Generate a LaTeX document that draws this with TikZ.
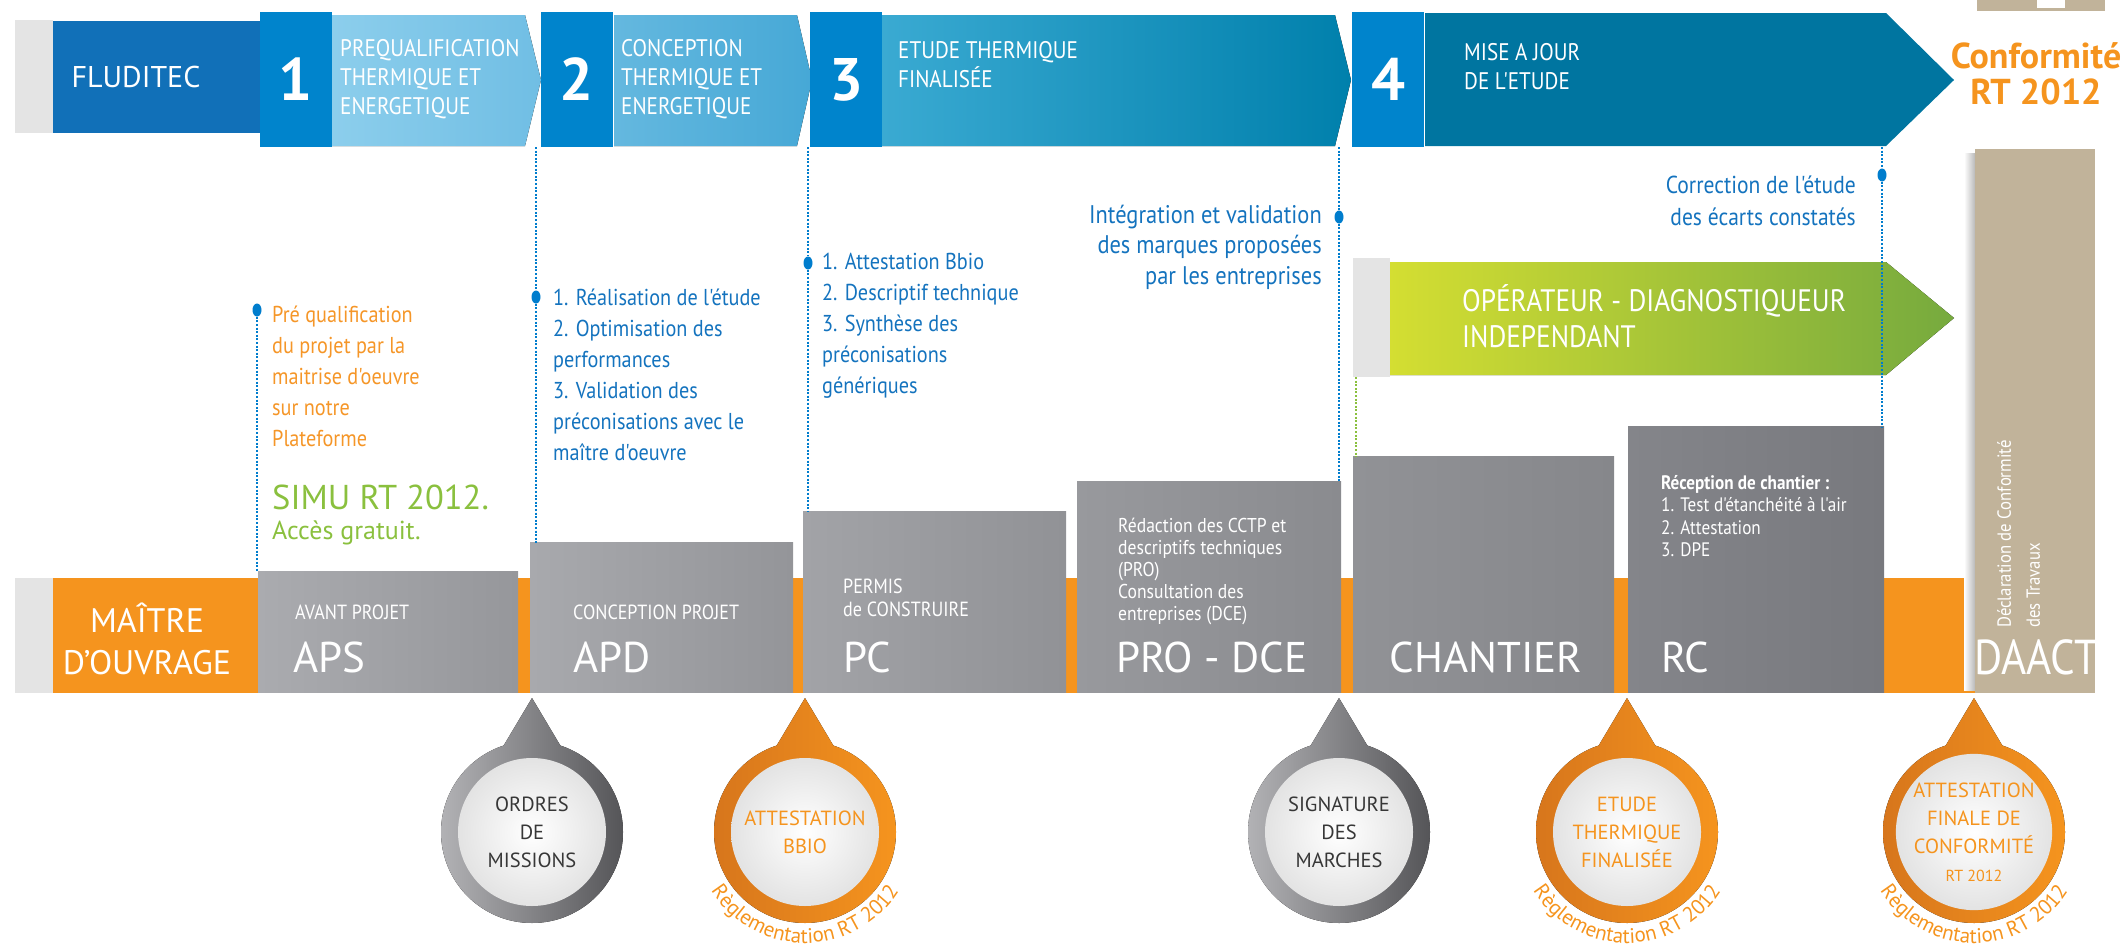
\documentclass[tikz,border=0pt]{standalone}
\usepackage{fontspec}
\setmainfont{PT Sans}
\newfontfamily\cond[FakeStretch=0.88]{PT Sans}
\usetikzlibrary{positioning,shapes.geometric,decorations.text}

\definecolor{fblue}{RGB}{17,112,184}
\definecolor{numblue}{RGB}{0,132,204}
\definecolor{segonel}{RGB}{140,206,236}
\definecolor{segoner}{RGB}{112,190,228}
\definecolor{segtwol}{RGB}{100,184,223}
\definecolor{segtwor}{RGB}{70,168,214}
\definecolor{segthreel}{RGB}{58,170,210}
\definecolor{segthreer}{RGB}{0,128,172}
\definecolor{segfour}{RGB}{0,117,160}
\definecolor{rtorange}{RGB}{245,148,30}
\definecolor{darkorange}{RGB}{215,118,28}
\definecolor{dotblue}{RGB}{0,125,205}
\definecolor{txtblue}{RGB}{20,115,190}
\definecolor{txtorange}{RGB}{245,150,40}
\definecolor{txtgreen}{RGB}{138,192,62}
\definecolor{greenl}{RGB}{212,222,50}
\definecolor{greenr}{RGB}{118,170,62}
\definecolor{tanbox}{RGB}{193,179,154}
\definecolor{stripgray}{RGB}{228,228,228}
\definecolor{pingrayl}{RGB}{178,178,181}
\definecolor{pingrayr}{RGB}{85,85,88}
\definecolor{pintext}{RGB}{55,55,55}

\begin{document}
\begin{tikzpicture}[
    x = 1pt, y = -1pt, % one unit per pixel, y pointing down
    numbox/.style = {fill=numblue, text=white, inner sep=0pt,
        minimum width=72pt, minimum height=135pt,
        font=\bfseries\fontsize{60}{60}\selectfont},
    seglbl/.style = {anchor=west, align=left, text=white, inner sep=0pt,
        font=\cond\fontsize{24}{29}\selectfont},
    note/.style = {anchor=west, align=left, inner sep=0pt,
        font=\cond\fontsize{23}{31}\selectfont},
    dotnode/.style = {ellipse, fill=dotblue, inner sep=0pt,
        minimum width=9pt, minimum height=13pt},
    dotline/.style = {draw=dotblue, line width=1.3pt, dash pattern=on 2pt off 1.6pt},
    phasebox/.style = {anchor=south west, inner sep=0pt},
    smalllbl/.style = {anchor=west, align=left, text=white, inner sep=0pt,
        font=\cond\fontsize{20.5}{23}\selectfont},
    biglbl/.style = {anchor=west, text=white, inner sep=0pt,
        font=\fontsize{43}{43}\selectfont},
    pinface/.style = {circle, minimum size=148pt, inner sep=0pt, align=center,
        inner color=white, outer color=gray!22,
        font=\fontsize{20.5}{28}\selectfont},
    rtlabel/.style = {decorate, decoration={text along path, text align=center,
        text color=rtorange,
        text={|\fontsize{21}{21}\selectfont|Règlementation RT 2012}}}
    ]
\useasboundingbox (0,0) rectangle (2123,945);

% top bar: FLUDITEC and the four steps
\fill[stripgray] (15,20) rectangle (53,133);
\fill[fblue] (53,21) rectangle (262,133);
\fill[left color=segonel, right color=segoner]
    (331,15) -- (525,15) -- (541,80) -- (525,146) -- (331,146) -- cycle;
\fill[left color=segtwol, right color=segtwor]
    (614,15) -- (797,15) -- (812,80) -- (797,146) -- (614,146) -- cycle;
\fill[left color=segthreel, right color=segthreer]
    (882,15) -- (1335,15) -- (1351,80) -- (1335,146) -- (882,146) -- cycle;
\fill[segfour]
    (1425,13) -- (1886,13) -- (1954,80) -- (1886,146) -- (1425,146) -- cycle;

\node[text=white, font=\fontsize{30}{30}\selectfont] (fluditec) at (136,77) {FLUDITEC};
\node[numbox] (n1) at (295.5,79.5) {1};
\node[numbox] (n2) at (577,79.5) {2};
\node[numbox] (n3) at (846,79.5) {3};
\node[numbox] (n4) at (1388,79.5) {4};
\node[seglbl] (s1) at (340,79) {PREQUALIFICATION\\THERMIQUE ET\\ENERGETIQUE};
\node[seglbl] (s2) at (621,79) {CONCEPTION\\THERMIQUE ET\\ENERGETIQUE};
\node[seglbl] (s3) at (898,65) {ETUDE THERMIQUE\\FINALISÉE};
\node[seglbl] (s4) at (1464,67) {MISE A JOUR\\DE L'ETUDE};
\node[text=rtorange, align=center, inner sep=0pt,
    font=\bfseries\fontsize{36}{36}\selectfont] (conf) at (2036,74) {Conformité\\RT 2012};
\fill[tanbox] (1977,0) rectangle (2105,11);
\fill[white] (2037,0) rectangle (2065,8);

% bottom band: MAITRE D'OUVRAGE and the phases
\fill[stripgray] (15,578) rectangle (53,693);
\fill[rtorange] (53,578) rectangle (1975,693);
\node[text=white, align=center, inner sep=0pt,
    font=\fontsize{34}{42}\selectfont] (mo) at (147,639) {MAÎTRE\\D'OUVRAGE};

\node[phasebox, minimum width=260pt, minimum height=121pt,
    left color={rgb,255:red,170;green,171;blue,175}, right color={rgb,255:red,150;green,151;blue,155}] (aps) at (258,693) {};
\node[phasebox, minimum width=263pt, minimum height=150pt,
    left color={rgb,255:red,168;green,169;blue,173}, right color={rgb,255:red,148;green,149;blue,153}] (apd) at (530,693) {};
\node[phasebox, minimum width=263pt, minimum height=181pt,
    left color={rgb,255:red,162;green,163;blue,167}, right color={rgb,255:red,145;green,146;blue,150}] (pc) at (803,693) {};
\node[phasebox, minimum width=264pt, minimum height=211pt,
    left color={rgb,255:red,152;green,153;blue,157}, right color={rgb,255:red,138;green,139;blue,143}] (prodce) at (1077,693) {};
\node[phasebox, minimum width=261pt, minimum height=236pt,
    left color={rgb,255:red,145;green,146;blue,150}, right color={rgb,255:red,134;green,135;blue,139}] (chantier) at (1353,693) {};
\node[phasebox, minimum width=256pt, minimum height=266pt,
    left color={rgb,255:red,132;green,133;blue,138}, right color={rgb,255:red,120;green,121;blue,126}] (rc) at (1628,693) {};
\fill[left color=white, right color=gray!55] (1964,153) rectangle (1975,690); % shadow
\node[phasebox, minimum width=120pt, minimum height=544pt, fill=tanbox] (daact) at (1975,693) {};

\node[smalllbl] (apstxt) at (295,612) {AVANT PROJET};
\node[biglbl] (apsname) at (293,657) {APS};
\node[smalllbl] (apdtxt) at (573,612) {CONCEPTION PROJET};
\node[biglbl] (apdname) at (573,657) {APD};
\node[smalllbl] (pctxt) at (843,598) {PERMIS\\de CONSTRUIRE};
\node[biglbl] (pcname) at (843,657) {PC};
\node[smalllbl, font=\cond\fontsize{20}{22}\selectfont] (prodcetxt) at (1118,571)
    {Rédaction des CCTP et\\descriptifs techniques\\(PRO)\\Consultation des\\entreprises (DCE)};
\node[biglbl] (prodcename) at (1116,657) {PRO - DCE};
\node[biglbl, anchor=center] (chantiername) at (1486,657) {CHANTIER};
\node[smalllbl, font=\cond\fontsize{19.5}{22.5}\selectfont] (rctxt) at (1661,516)
    {\textbf{Réception de chantier :}\\1. Test d'étanchéité à l'air\\2. Attestation\\3. DPE};
\node[biglbl] (rcname) at (1661,657) {RC};
\node[biglbl, anchor=center, font=\cond\fontsize{49}{49}\selectfont] (daactname) at (2036,657) {DAACT};
\node[rotate=90, anchor=north west, align=left, text=white, inner sep=0pt,
    font=\cond\fontsize{19}{29}\selectfont] (decl) at (1997,628)
    {Déclaration de Conformité\\des Travaux};

% independent operator arrow
\fill[stripgray] (1353,258) rectangle (1390,377);
\fill[left color=greenl, right color=greenr]
    (1390,262) -- (1886,262) -- (1954,318) -- (1886,375) -- (1390,375) -- cycle;
\node[seglbl, font=\cond\fontsize{31}{36}\selectfont] (odi) at (1462,316)
    {OPÉRATEUR - DIAGNOSTIQUEUR\\INDEPENDANT};

% dotted timeline markers
\coordinate (t2) at (536,147);
\coordinate (t3) at (808,147);
\coordinate (t4) at (1339,147);
\coordinate (t5) at (1882,147);
\coordinate (g0) at (1356,377);
\node[dotnode] (d1) at (257,310) {};
\node[dotnode] (d2) at (536,297) {};
\node[dotnode] (d3) at (808,263) {};
\node[dotnode] (d4) at (1339,217) {};
\node[dotnode] (d5) at (1882,175) {};
\draw[dotline] (d1) -- (d1 |- aps.north);
\draw[dotline] (t2) -- (d2) -- (d2 |- apd.north);
\draw[dotline] (t3) -- (d3) -- (d3 |- pc.north);
\draw[dotline] (t4) -- (d4) -- (d4 |- prodce.north);
\draw[dotline] (t5) -- (d5) -- (d5 |- rc.north);
\draw[dotline, draw=txtgreen] (g0) -- (g0 |- chantier.north);

% notes
\node[note, text=txtorange] (n1note) at (272,376)
    {Pré qualification\\du projet par la\\maitrise d'oeuvre\\sur notre\\Plateforme};
\node[note, text=txtgreen, font=\fontsize{34.5}{34.5}\selectfont] (simu) at (272,497) {SIMU RT 2012.};
\node[note, text=txtgreen, font=\fontsize{26}{26}\selectfont] (acces) at (272,533) {Accès gratuit.};
\node[note, text=txtblue] (n2note) at (553,375)
    {1. Réalisation de l'étude\\2. Optimisation des\\performances\\3. Validation des\\préconisations avec le\\maître d'oeuvre};
\node[note, text=txtblue] (n3note) at (822,326)
    {1. Attestation Bbio\\2. Descriptif technique\\3. Synthèse des\\préconisations\\génériques};
\node[note, text=txtblue, anchor=east, align=right, font=\cond\fontsize{25.5}{30.5}\selectfont] (n4note) at (1322,247)
    {Intégration et validation\\des marques proposées\\par les entreprises};
\node[note, text=txtblue, anchor=east, align=right, font=\cond\fontsize{24.5}{32}\selectfont] (n5note) at (1856,201)
    {Correction de l'étude\\des écarts constatés};

% milestone pins
\fill[left color=pingrayl, right color=pingrayr]
    (532,698) -- (501,750) -- (563,750) -- cycle (532,832) circle[radius=91pt];
\node[pinface, text=pintext] (ordres) at (532,832) {ORDRES\\DE\\MISSIONS};

\fill[left color=darkorange, right color=rtorange]
    (805,698) -- (774,750) -- (836,750) -- cycle (805,832) circle[radius=91pt];
\node[pinface, text=rtorange] (bbio) at (805,832) {ATTESTATION\\BBIO};
\path[rtlabel] (bbio.center) ++(208:111pt) arc[start angle=208, end angle=332, radius=111pt];

\fill[left color=pingrayl, right color=pingrayr]
    (1339,698) -- (1308,750) -- (1370,750) -- cycle (1339,832) circle[radius=91pt];
\node[pinface, text=pintext] (signature) at (1339,832) {SIGNATURE\\DES\\MARCHES};

\fill[left color=darkorange, right color=rtorange]
    (1627,698) -- (1596,750) -- (1658,750) -- cycle (1627,832) circle[radius=91pt];
\node[pinface, text=rtorange] (etude) at (1627,832) {ETUDE\\THERMIQUE\\FINALISÉE};
\path[rtlabel] (etude.center) ++(208:111pt) arc[start angle=208, end angle=332, radius=111pt];

\fill[left color=darkorange, right color=rtorange]
    (1974,698) -- (1943,750) -- (2005,750) -- cycle (1974,832) circle[radius=91pt];
\node[pinface, text=rtorange] (finale) at (1974,832)
    {ATTESTATION\\FINALE DE\\CONFORMITÉ\\{\fontsize{16}{16}\selectfont RT 2012}};
\path[rtlabel] (finale.center) ++(208:111pt) arc[start angle=208, end angle=332, radius=111pt];
\end{tikzpicture}
\end{document}
